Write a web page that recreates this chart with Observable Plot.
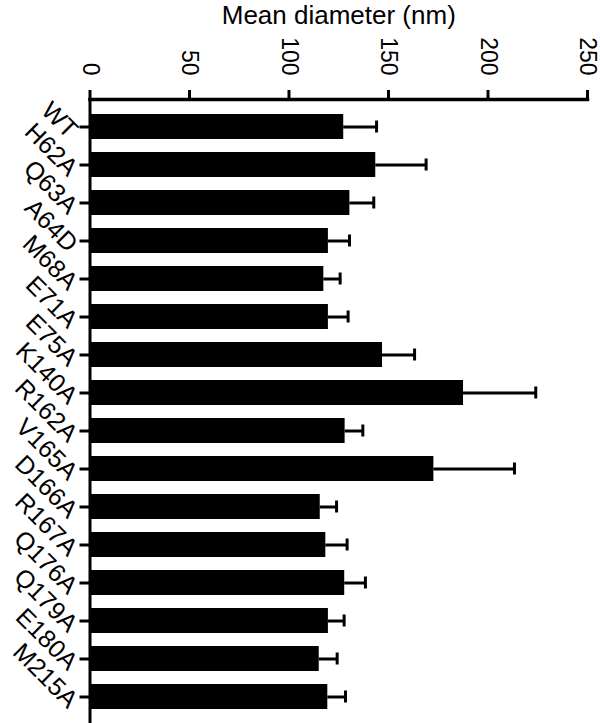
<!DOCTYPE html>
<html>
<head>
<meta charset="utf-8">
<script src="https://cdn.jsdelivr.net/npm/d3@7"></script>
<script src="https://cdn.jsdelivr.net/npm/@observablehq/plot@0.6"></script>
<style>
  html, body { margin: 0; padding: 0; background: #fff; }
  #chart svg { display: block; }
</style>
</head>
<body>
<div id="chart"></div>
<script>
const mutants = ["WT","H62A","Q63A","A64D","M68A","E71A","E75A","K140A","R162A","V165A","D166A","R167A","Q176A","Q179A","E180A","M215A"];
const meanDiameter = [127.5,143.6,130.6,119.8,117.5,119.8,147.0,187.7,128.2,172.8,115.7,118.5,128.0,119.8,115.2,119.5];
const errorValue = [16.5,25.3,12.0,10.6,8.2,9.9,16.1,36.3,8.9,40.5,8.2,10.7,10.4,7.9,9.0,8.9];
const xTicks = [0,50,100,150,200,250];
const title = "Mean diameter (nm)";

const data = mutants.map((name, i) => ({name, mean: meanDiameter[i], err: errorValue[i]}));

const chart = Plot.plot({
  width: 600,
  height: 723,
  marginTop: 99,
  marginBottom: 0,
  marginLeft: 89.5,
  marginRight: 13,
  style: {fontFamily: "'Liberation Sans', Arial, Helvetica, sans-serif", color: "black", background: "white"},
  x: {domain: [0, 250]},
  y: {domain: mutants, paddingInner: 0.35, paddingOuter: 0.19},
  marks: [
    Plot.barX(data, {y: "name", x: "mean", fill: "black"}),
    Plot.ruleY(data, {y: "name", x1: "mean", x2: d => d.mean + d.err, stroke: "black", strokeWidth: 3}),
    Plot.tickX(data, {y: "name", x: d => d.mean + d.err, stroke: "black", strokeWidth: 3, insetTop: 6.5, insetBottom: 6.5}),
    Plot.ruleX([0], {stroke: "black", strokeWidth: 3}),
    Plot.frame({anchor: "top", stroke: "black", strokeWidth: 3.5}),
    Plot.axisX({anchor: "top", ticks: xTicks, tickSize: 10, tickPadding: 14, tickRotate: 90, fontSize: 23, strokeWidth: 3, label: null}),
    Plot.axisY({anchor: "left", tickSize: 10, tickPadding: 0, tickRotate: 45, lineAnchor: "top", fontSize: 25, strokeWidth: 3, label: null}),
    Plot.text([title], {text: d => d, frameAnchor: "top", lineAnchor: "top", dy: -94, fontSize: 26, fill: "black"})
  ]
});
document.getElementById("chart").appendChild(chart);
</script>
</body>
</html>
